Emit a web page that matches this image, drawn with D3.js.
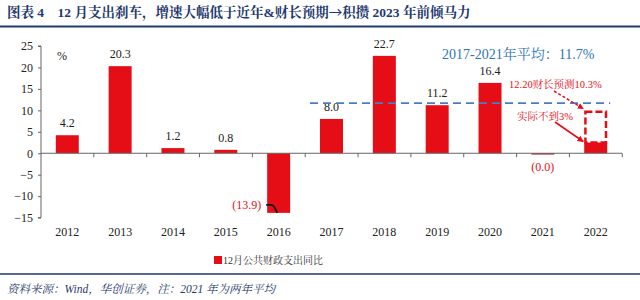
<!DOCTYPE html>
<html><head><meta charset="utf-8">
<script src="https://cdn.jsdelivr.net/npm/d3@7/dist/d3.min.js"></script>
<style>
html,body{margin:0;padding:0;background:#fff;}
svg{display:block;}
text{white-space:pre;}
</style></head>
<body>
<svg id="c" width="640" height="300"></svg>
<script>
const years = ["2012","2013","2014","2015","2016","2017","2018","2019","2020","2021","2022"];
const values = [4.2, 20.3, 1.2, 0.8, -13.9, 8.0, 22.7, 11.2, 16.4, -0.3, 2.5];
const valueLabels = ["4.2","20.3","1.2","0.8","(13.9)","8.0","22.7","11.2","16.4","(0.0)",""];
const yTicks = [25, 20, 15, 10, 5, 0, -5, -10, -15];
const avgValue = 11.7;
const forecastValue = 9.7;
const titleParts = ["图表\u00a04\u00a0\u00a0\u00a0\u00a012\u00a0月支出刹车，增速大幅低于近年&财长预期", "→", "积攒\u00a02023\u00a0年前倾马力"];
const avgText = "2017-2021年平均：11.7%";
const forecastText = "12.20财长预测10.3%";
const actualText = "实际不到3%";
const legendText = "12月公共财政支出同比";
const sourceText = "资料来源：Wind，华创证券，注：2021\u00a0年为两年平均";

const svg = d3.select("#c");
const serif = "'Liberation Serif','Times New Roman','Noto Serif CJK SC','Noto Sans CJK SC',serif";
const red = "#E50E17";
const navy = "#1F3A6E";

const x = d3.scaleBand().domain(years).range([41, 622]).paddingInner(0.565).paddingOuter(0.28);
const y = d3.scaleLinear().domain([-15, 25]).range([217.6, 46]);

// title
const tt = svg.append("text").attr("x", 7).attr("y", 17).attr("fill", navy)
  .attr("font-family", serif).attr("font-weight", "bold").attr("font-size", 13.5);
tt.append("tspan").text(titleParts[0]);
tt.append("tspan").attr("font-family","'Noto Sans CJK SC',sans-serif").attr("font-weight","normal").text(titleParts[1]);
tt.append("tspan").text(titleParts[2]);
svg.append("line").attr("x1", 0).attr("x2", 640).attr("y1", 26.5).attr("y2", 26.5)
  .attr("stroke", navy).attr("stroke-width", 2);

// y axis
const yAxis = d3.axisLeft(y).tickValues(yTicks).tickSize(3).tickPadding(5).tickFormat(d3.format("d"));
const gy = svg.append("g").attr("transform", "translate(41,0)").call(yAxis);
gy.select(".domain").attr("stroke", "#666").attr("d", `M-3,${y(25)}H0V${y(-15)}H-3`);
gy.selectAll(".tick line").attr("stroke", "#666");
gy.selectAll("text").attr("font-family", serif).attr("font-size", 12).attr("fill", "#222");

// bars
svg.append("g").selectAll("rect").data(values).join("rect")
  .attr("x", (d, i) => x(years[i]))
  .attr("width", x.bandwidth())
  .attr("y", d => y(Math.max(0, d)))
  .attr("height", d => Math.abs(y(d) - y(0)))
  .attr("fill", (d, i) => i === 9 ? "#B0121B" : red);

// x axis (at zero)
const step = x.step();
const xStart = x(years[0]) - step * x.paddingOuter();
const gx = svg.append("g");
gx.append("line").attr("x1", 41).attr("x2", 622).attr("y1", y(0)).attr("y2", y(0)).attr("stroke", "#666");
gx.selectAll("line.t").data(d3.range(1, years.length + 1)).join("line").attr("class","t")
  .attr("x1", i => xStart + i*step)
  .attr("x2", i => xStart + i*step)
  .attr("y1", y(0)).attr("y2", y(0) + 4).attr("stroke", "#666");
svg.append("g").selectAll("text").data(years).join("text")
  .attr("x", d => x(d) + x.bandwidth()/2).attr("y", 236)
  .attr("text-anchor", "middle").attr("font-family", serif).attr("font-size", 12).attr("fill", "#222")
  .text(d => d);

// % unit
svg.append("text").attr("x", 57).attr("y", 60).attr("font-family", serif).attr("font-size", 12).attr("fill","#222").text("%");

// value labels
values.forEach((v, i) => {
  const lab = valueLabels[i];
  if (!lab) return;
  const cx = x(years[i]) + x.bandwidth()/2;
  if (v >= 0) {
    svg.append("text").attr("x", cx).attr("y", y(v) - 8).attr("text-anchor","middle")
      .attr("font-family", serif).attr("font-size", 12).attr("fill","#222").text(lab);
  } else if (i === 4) {
    const bx = x(years[i]);
    svg.append("text").attr("x", bx - 6).attr("y", y(v) - 4).attr("text-anchor","end")
      .attr("font-family", serif).attr("font-size", 12).attr("fill", red).text(lab);
    const ly = y(v) - 8;
    svg.append("path").attr("d", `M${bx-1},${ly}H${bx+4}Q${bx+7},${ly} ${bx+10},${y(v)}`)
      .attr("fill","none").attr("stroke","#111").attr("stroke-width",1.8);
  } else {
    svg.append("text").attr("x", cx).attr("y", y(0) + 18).attr("text-anchor","middle")
      .attr("font-family", serif).attr("font-size", 12).attr("fill", red).text(lab);
  }
});

// average dashed line
svg.append("line").attr("x1", x("2017") - 10).attr("x2", x("2022") + x.bandwidth() + 3)
  .attr("y1", y(avgValue)).attr("y2", y(avgValue))
  .attr("stroke", "#4A7CC4").attr("stroke-width", 1.8).attr("stroke-dasharray", "8,5");
svg.append("text").attr("x", 442).attr("y", 59).attr("fill", "#2E75B6")
  .attr("font-family", serif).attr("font-size", 14).text(avgText);

// forecast dashed rect
const b22 = x("2022");
svg.append("rect").attr("x", b22 + 1.2).attr("width", x.bandwidth() - 2.4)
  .attr("y", y(forecastValue)).attr("height", y(values[10]) - y(forecastValue))
  .attr("fill","none").attr("stroke", red).attr("stroke-width", 2.5).attr("stroke-dasharray","7,3");

// annotations
svg.append("text").attr("x", 509).attr("y", 88).attr("fill", red)
  .attr("font-family", serif).attr("font-size", 10.5).text(forecastText);
svg.append("text").attr("x", 517).attr("y", 120).attr("fill", red)
  .attr("font-family", serif).attr("font-size", 10.5).text(actualText);

const defs = svg.append("defs");
defs.append("marker").attr("id","ah").attr("viewBox","0 0 10 10").attr("refX",9).attr("refY",5)
  .attr("markerWidth",4).attr("markerHeight",4).attr("orient","auto").attr("markerUnits","strokeWidth")
  .append("path").attr("d","M0,0L10,5L0,10z").attr("fill", red);
svg.append("line").attr("x1", 554).attr("y1", 91).attr("x2", b22 - 1).attr("y2", y(forecastValue) - 3)
  .attr("stroke", red).attr("stroke-width", 1.5).attr("stroke-dasharray","3,2").attr("marker-end","url(#ah)");
svg.append("line").attr("x1", 555).attr("y1", 122).attr("x2", b22 - 1).attr("y2", y(values[10]) - 1)
  .attr("stroke", red).attr("stroke-width", 1.6).attr("marker-end","url(#ah)");

// legend
svg.append("rect").attr("x", 214).attr("y", 256).attr("width", 8).attr("height", 8).attr("fill", red);
svg.append("text").attr("x", 223).attr("y", 264).attr("fill","#333")
  .attr("font-family", serif).attr("font-size", 10).text(legendText);

// bottom line + source
svg.append("line").attr("x1", 0).attr("x2", 640).attr("y1", 274).attr("y2", 274)
  .attr("stroke", navy).attr("stroke-width", 1.5);
svg.append("text").attr("x", 7).attr("y", 293).attr("fill", navy)
  .attr("font-family", serif).attr("font-style","italic").attr("font-size", 11.5).text(sourceText);
</script>
</body></html>
